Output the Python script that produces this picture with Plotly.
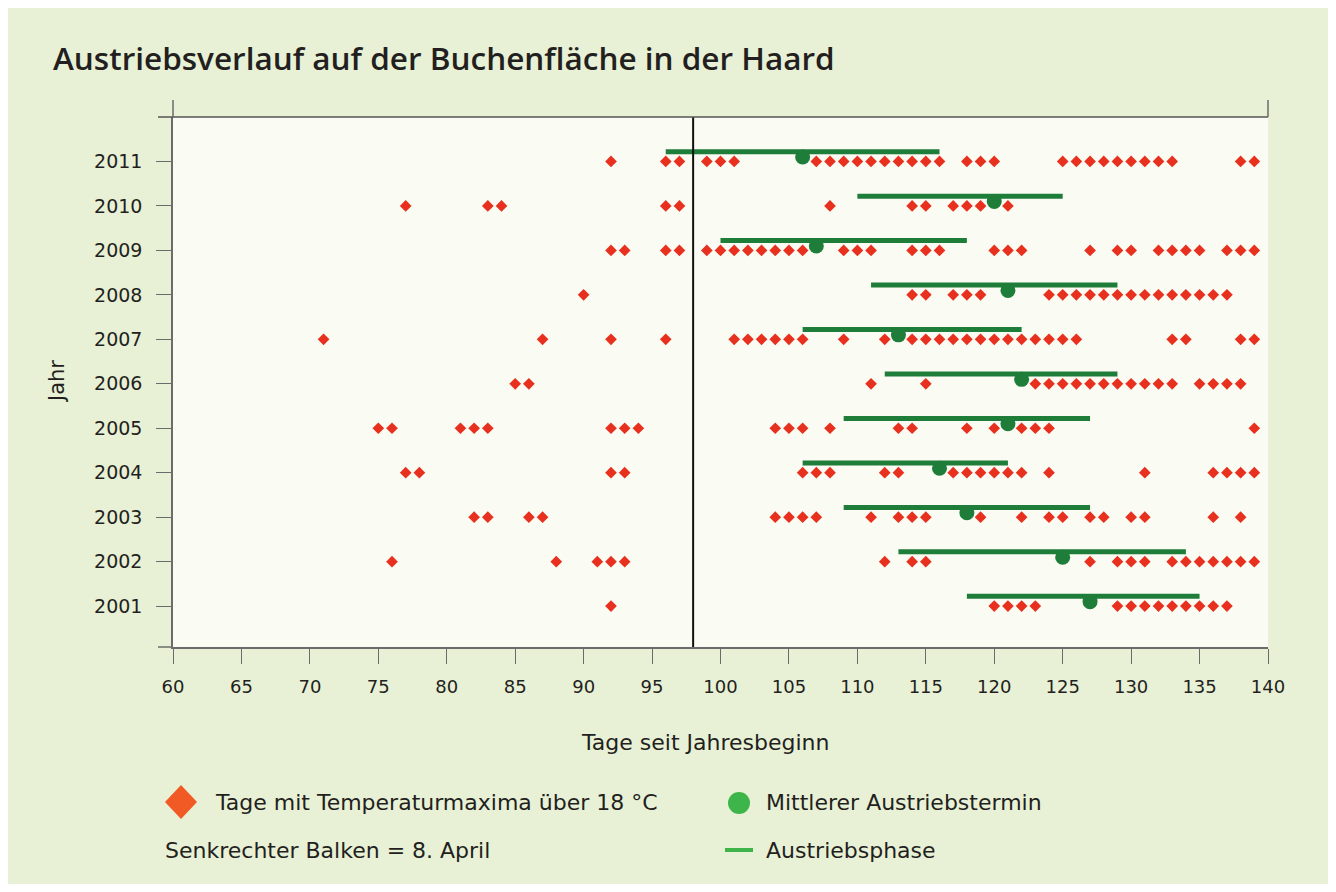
import plotly.graph_objects as go

# years shown on the y axis, top to bottom
years = [2011, 2010, 2009, 2008, 2007, 2006, 2005, 2004, 2003, 2002, 2001]

# days (since Jan 1) with a max temperature above 18 °C, per year
warm_days = {
    2011: [92, 96, 97, 99, 100, 101, 107, 108, 109, 110, 111, 112, 113, 114, 115, 116,
           118, 119, 120, 125, 126, 127, 128, 129, 130, 131, 132, 133, 138, 139],
    2010: [77, 83, 84, 96, 97, 108, 114, 115, 117, 118, 119, 121],
    2009: [92, 93, 96, 97, 99, 100, 101, 102, 103, 104, 105, 106, 109, 110, 111, 114, 115, 116,
           120, 121, 122, 127, 129, 130, 132, 133, 134, 135, 137, 138, 139],
    2008: [90, 114, 115, 117, 118, 119, 124, 125, 126, 127, 128, 129, 130, 131, 132, 133,
           134, 135, 136, 137],
    2007: [71, 87, 92, 96, 101, 102, 103, 104, 105, 106, 109, 112, 114, 115, 116, 117, 118,
           119, 120, 121, 122, 123, 124, 125, 126, 133, 134, 138, 139],
    2006: [85, 86, 111, 115, 123, 124, 125, 126, 127, 128, 129, 130, 131, 132, 133,
           135, 136, 137, 138],
    2005: [75, 76, 81, 82, 83, 92, 93, 94, 104, 105, 106, 108, 113, 114, 118, 120, 122, 123,
           124, 139],
    2004: [77, 78, 92, 93, 106, 107, 108, 112, 113, 117, 118, 119, 120, 121, 122, 124, 131,
           136, 137, 138, 139],
    2003: [82, 83, 86, 87, 104, 105, 106, 107, 111, 113, 114, 115, 119, 122, 124, 125, 127,
           128, 130, 131, 136, 138],
    2002: [76, 88, 91, 92, 93, 112, 114, 115, 127, 129, 130, 131, 133, 134, 135, 136, 137,
           138, 139],
    2001: [92, 120, 121, 122, 123, 129, 130, 131, 132, 133, 134, 135, 136, 137],
}

# Austriebsphase (start / end) and mittlerer Austriebstermin
phase_start = [96, 110, 100, 111, 106, 112, 109, 106, 109, 113, 118]
phase_end = [116, 125, 118, 129, 122, 129, 127, 121, 127, 134, 135]
mean_date = [106, 120, 107, 121, 113, 122, 121, 116, 118, 125, 127]

april_8 = 98
x_ticks = list(range(60, 141, 5))

BG = "#E8F1D5"
PLOT_BG = "#FAFBF3"
RED = "#E8301F"
DARK_GREEN = "#1F7D3A"
LEG_ORANGE = "#F15A24"
LEG_GREEN = "#3DB54A"
TXT = "#231F20"
AXIS = "#6B6B6B"
FONT = "DejaVu Sans"
TITLE_FONT = "Open Sans"

# the page adds an 8px body margin, so the figure is a bit smaller than the window
W, H, OFF = 1320, 876, 8
# plot area in reference-picture pixels (used for the hand-made legend/frame)
L, R, T, B = 173, 1268, 117, 647


def px(x):
    return (x - L) / (R - L)


def py(y):
    return (B - y) / (B - T)


LINE_OFF = 0.22  # phase bars sit a little above the diamond row
DOT_OFF = 0.1

wx, wy = [], []
for yr in years:
    for d in warm_days[yr]:
        wx.append(d)
        wy.append(yr)

lx, ly = [], []
for yr, s, e in zip(years, phase_start, phase_end):
    lx += [s, e, None]
    ly += [yr + LINE_OFF, yr + LINE_OFF, None]

fig = go.Figure()
fig.add_trace(go.Scatter(x=wx, y=wy, mode="markers",
                         marker=dict(symbol="diamond", size=9, color=RED),
                         hoverinfo="x+y"))
fig.add_trace(go.Scatter(x=lx, y=ly, mode="lines",
                         line=dict(color=DARK_GREEN, width=5)))
fig.add_trace(go.Scatter(x=mean_date, y=[y + DOT_OFF for y in years], mode="markers",
                         marker=dict(symbol="circle", size=15, color=DARK_GREEN)))

fig.update_xaxes(range=[60, 140], tickvals=x_ticks, ticks="outside", ticklen=15,
                 tickcolor=AXIS, showline=True, linecolor=AXIS, linewidth=1.5,
                 showgrid=False, zeroline=False, ticklabelstandoff=8,
                 tickfont=dict(size=18, color=TXT, family=FONT))
fig.update_yaxes(range=[2000.08, 2012.0], tickvals=years, ticks="outside", ticklen=15,
                 tickcolor=AXIS, showline=True, linecolor=AXIS, linewidth=1.5,
                 showgrid=False, zeroline=False, ticklabelstandoff=10,
                 tickfont=dict(size=19, color=TXT, family=FONT))

shapes = [
    # 8. April
    dict(type="line", xref="x", yref="paper", x0=april_8, x1=april_8, y0=0, y1=1,
         line=dict(color="#111111", width=2)),
    # frame pieces
    dict(type="line", xref="paper", yref="paper", x0=px(158), x1=1, y0=1, y1=1,
         line=dict(color="#555555", width=1.5)),
    dict(type="line", xref="paper", yref="paper", x0=px(158), x1=0, y0=0, y1=0,
         line=dict(color=AXIS, width=1.5)),
    dict(type="line", xref="paper", yref="paper", x0=0, x1=0, y0=1, y1=py(100),
         line=dict(color=AXIS, width=1.5)),
    dict(type="line", xref="paper", yref="paper", x0=1, x1=1, y0=1, y1=py(100),
         line=dict(color=AXIS, width=1.5)),
    # legend symbols
    dict(type="path", xref="paper", yref="paper", fillcolor=LEG_ORANGE, line=dict(width=0),
         path="M {} {} L {} {} L {} {} L {} {} Z".format(
             px(165), py(802), px(181), py(785), px(197), py(802), px(181), py(819))),
    dict(type="circle", xref="paper", yref="paper", fillcolor=LEG_GREEN, line=dict(width=0),
         x0=px(728), x1=px(750), y0=py(814), y1=py(792)),
    dict(type="line", xref="paper", yref="paper", x0=px(725), x1=px(753),
         y0=py(850), y1=py(850), line=dict(color=LEG_GREEN, width=4)),
]


def note(text, x, y, size=22, **kw):
    d = dict(text=text, xref="paper", yref="paper", x=px(x), y=py(y), showarrow=False,
             xanchor="left", yanchor="middle", font=dict(size=size, color=TXT, family=FONT))
    d.update(kw)
    return d


annotations = [
    note("Austriebsverlauf auf der Buchenfläche in der Haard", 51, 58,
         font=dict(size=31.5, color=TXT, family=TITLE_FONT, weight=600)),
    note("Tage seit Jahresbeginn", 705, 742, size=22, xanchor="center"),
    note("Jahr", 57, 382, size=21, xanchor="center", textangle=-90),
    note("Tage mit Temperaturmaxima über 18 °C", 213, 802),
    note("Senkrechter Balken = 8. April", 163, 850),
    note("Mittlerer Austriebstermin", 764, 802),
    note("Austriebsphase", 764, 850),
]

fig.update_layout(
    width=W, height=H,
    margin=dict(l=L - OFF, r=W - (R - OFF), t=T - OFF, b=H - (B - OFF)),
    paper_bgcolor=BG, plot_bgcolor=PLOT_BG,
    showlegend=False,
    shapes=shapes,
    annotations=annotations,
    font=dict(family=FONT, color=TXT),
)

fig.write_html("out.html")
